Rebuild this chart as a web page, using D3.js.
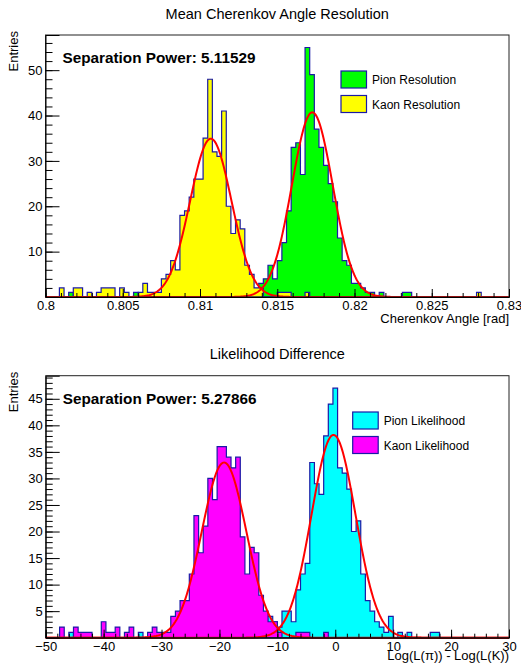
<!DOCTYPE html>
<html><head><meta charset="utf-8">
<script src="https://cdn.jsdelivr.net/npm/d3@7/dist/d3.min.js"></script>
<style>
body{margin:0;background:#fff}
svg{display:block}
text{font-family:"Liberation Sans",Arial,Helvetica,sans-serif;fill:#000}
</style></head><body>
<svg id="c" width="521" height="668"></svg>
<script>
// ---------- DATA ----------
// Top: Mean Cherenkov angle, 100 bins over [0.80, 0.83]
const angleRange = [0.8, 0.83];
const pionResolution = [
 0,0,0,0,0,1,0,0,0,0,
 0,0,0,0,0,0,0,0,0,1,
 0,0,0,0,0,0,0,0,0,0,
 0,0,0,0,0,0,0,0,0,0,
 0,0,0,0,0,1,3,4,7,4,
 8,12,19,33,34,27,55,49,37,33,
 29,25,21,13,8,7,3,3,2,1,
 1,0,1,0,0,0,0,1,1,0,
 0,0,0,0,0,0,0,0,0,0,
 0,0,0,0,0,0,0,0,0,0];
const kaonResolution = [
 0,0,0,2,0,0,2,2,0,1,
 0,1,2,2,2,0,2,1,0,0,
 1,3,1,1,1,4,5,8,6,18,
 19,22,26,26,35,48,32,31,41,20,
 14,17,15,7,5,2,2,0,0,0,
 1,1,1,0,0,0,1,0,0,0,
 0,0,0,0,0,0,0,0,0,0,
 0,0,0,0,0,0,0,0,0,0,
 0,0,0,0,0,0,0,0,0,0,
 0,0,0,1,0,0,0,0,0,0];
// gaussian fit parameters [constant, mean, sigma]
const pionResFit = [40.7, 0.81727, 0.00132];
const kaonResFit = [34.9, 0.81070, 0.00134];
const angleTicks = [0.8, 0.805, 0.81, 0.815, 0.82, 0.825, 0.83];
const angleTickLabels = ["0.8","0.805","0.81","0.815","0.82","0.825","0.83"];
const topYTicks = [10, 20, 30, 40, 50];
const sepPowerTop = "5.11529";

// Bottom: likelihood difference, 100 bins over [-50, 30]
const llRange = [-50, 30];
const pionLikelihood = [
 0,0,0,0,0,1,0,0,0,0,
 0,0,0,0,0,0,0,0,0,0,
 1,0,0,0,0,0,0,0,0,0,
 0,0,0,0,0,0,0,0,0,0,
 0,0,0,0,0,0,0,4,4,3,
 2,5,5,3,9,12,14,33,29,27,
 38,44,47,32,31,28,20,22,12,7,
 5,3,2,1,4,0,1,0,1,0,
 0,0,0,1,1,0,0,0,0,0,
 0,0,0,0,0,0,0,0,0,0];
const kaonLikelihood = [
 0,0,0,2,0,0,2,1,1,1,
 0,0,3,1,1,2,0,1,2,0,
 0,0,1,2,1,1,1,4,5,7,
 7,12,23,16,21,30,26,36,36,34,
 32,34,19,12,17,16,8,5,3,3,
 1,0,0,0,1,1,1,0,0,0,
 1,0,0,0,0,0,0,0,0,0,
 0,0,0,0,0,0,0,0,0,0,
 0,0,0,0,0,0,0,0,0,0,
 0,0,0,0,0,0,0,0,0,0];
const pionLLFit = [38.2, -0.3, 3.8];
const kaonLLFit = [33.0, -19.2, 3.85];
const llTicks = [-50, -40, -30, -20, -10, 0, 10, 20, 30];
const llTickLabels = ["\u221250","\u221240","\u221230","\u221220","\u221210","0","10","20","30"];
const botYTicks = [5, 10, 15, 20, 25, 30, 35, 40, 45];
const sepPowerBot = "5.27866";

// ---------- DRAW ----------
const svg = d3.select("#c");
const BLUE = "#1a1aa6";

function panel(o) {
  const g = svg.append("g");
  const x = d3.scaleLinear().domain(o.range).range([o.left, o.right]);
  const ymax = d3.max(o.series.flatMap(s => s.values)) * 1.05;
  const y = d3.scaleLinear().domain([0, ymax]).range([o.bottom, o.top]);
  const n = o.series[0].values.length;
  const bw = (o.range[1] - o.range[0]) / n;

  // histograms
  o.series.forEach(s => {
    const pts = [[o.range[0], 0]];
    s.values.forEach((v, i) => {
      const a = o.range[0] + i * bw;
      pts.push([a, v], [a + bw, v]);
    });
    pts.push([o.range[1], 0]);
    const line = d3.line().x(d => x(d[0])).y(d => y(d[1]));
    g.append("path").attr("d", line(pts) + "Z")
      .attr("fill", s.color).attr("stroke", BLUE).attr("stroke-width", 1.2)
      .attr("stroke-linejoin", "miter");
  });

  // fits
  o.fits.forEach(f => {
    const N = 600;
    const pts = d3.range(N + 1).map(i => {
      const xv = o.range[0] + (o.range[1] - o.range[0]) * i / N;
      return [xv, f[0] * Math.exp(-0.5 * Math.pow((xv - f[1]) / f[2], 2))];
    });
    g.append("path").attr("d", d3.line().x(d => x(d[0])).y(d => y(Math.min(d[1], ymax)))(pts))
      .attr("fill", "none").attr("stroke", "#ff0000").attr("stroke-width", 2);
  });

  // frame
  g.append("rect").attr("x", o.left).attr("y", o.top)
    .attr("width", o.right - o.left).attr("height", o.bottom - o.top)
    .attr("fill", "none").attr("stroke", "#222").attr("stroke-width", 1);

  // x axis major
  const xa = g.append("g").attr("transform", `translate(0,${o.bottom})`)
    .call(d3.axisBottom(x).tickValues(o.xTicks).tickSize(-8).tickPadding(4)
      .tickFormat((d, i) => o.xLabels[i]));
  xa.select(".domain").attr("stroke", "#000");
  xa.selectAll("text").attr("font-size", 13).attr("font-family", '"Liberation Sans",Arial,sans-serif').attr("dy", "0.72em");
  // x minor
  g.append("g").attr("transform", `translate(0,${o.bottom})`)
    .call(d3.axisBottom(x).tickValues(o.xMinor).tickSize(-4).tickFormat(""))
    .select(".domain").remove();

  // y axis major
  const ya = g.append("g").attr("transform", `translate(${o.left},0)`)
    .call(d3.axisLeft(y).tickValues(o.yTicks).tickSize(-14).tickPadding(3));
  ya.select(".domain").attr("stroke", "#000");
  ya.selectAll("text").attr("font-size", 13).attr("font-family", '"Liberation Sans",Arial,sans-serif');
  g.append("g").attr("transform", `translate(${o.left},0)`)
    .call(d3.axisLeft(y).tickValues(o.yMinor).tickSize(-7).tickFormat(""))
    .select(".domain").remove();
  g.selectAll(".tick line").attr("stroke", "#000");

  // titles
  g.append("text").attr("x", (o.left + o.right) / 2).attr("y", o.titleY)
    .attr("text-anchor", "middle").attr("font-size", 14.5).text(o.title);
  g.append("text").attr("transform", `translate(${o.left - 28},${o.top - 4}) rotate(-90)`)
    .attr("text-anchor", "end").attr("font-size", 13).text("Entries");
  g.append("text").attr("x", o.right).attr("y", o.bottom + o.xTitleDy)
    .attr("text-anchor", "end").attr("font-size", 13).text(o.xTitle);
  g.append("text").attr("x", o.left + 17).attr("y", o.top + 28)
    .attr("font-size", 15.3).attr("font-weight", "bold")
    .text("Separation Power: " + o.sep);

  // legend
  o.series.forEach((s, i) => {
    const ly = o.legY + i * 24.5;
    g.append("rect").attr("x", o.legX).attr("y", ly).attr("width", 25.5).attr("height", 17)
      .attr("fill", s.color).attr("stroke", BLUE).attr("stroke-width", 1.2);
    g.append("text").attr("x", o.legX + 31).attr("y", ly + 13)
      .attr("font-size", 12).text(s.label);
  });
}

const angleMinor = d3.range(0, 31).map(i => 0.8 + i / 1000);
panel({
  range: angleRange, left: 45.5, right: 509, top: 35, bottom: 297,
  series: [{values: pionResolution, color: "#00ff00", label: "Pion Resolution"},
           {values: kaonResolution, color: "#ffff00", label: "Kaon Resolution"}],
  fits: [pionResFit, kaonResFit],
  xTicks: angleTicks, xLabels: angleTickLabels, xMinor: angleMinor,
  yTicks: topYTicks, yMinor: d3.range(2, 58, 2),
  title: "Mean Cherenkov Angle Resolution", titleY: 19,
  xTitle: "Cherenkov Angle [rad]", xTitleDy: 26,
  sep: sepPowerTop, legX: 341, legY: 71
});

panel({
  range: llRange, left: 45.7, right: 509, top: 375.7, bottom: 637.7,
  series: [{values: pionLikelihood, color: "#00ffff", label: "Pion Likelihood"},
           {values: kaonLikelihood, color: "#ff00ff", label: "Kaon Likelihood"}],
  fits: [pionLLFit, kaonLLFit],
  xTicks: llTicks, xLabels: llTickLabels, xMinor: d3.range(-50, 31, 2),
  yTicks: botYTicks, yMinor: d3.range(1, 50, 1),
  title: "Likelihood Difference", titleY: 358.5,
  xTitle: "Log(L(\u03c0)) - Log(L(K))", xTitleDy: 22.5,
  sep: sepPowerBot, legX: 352.7, legY: 412
});
</script></body></html>
